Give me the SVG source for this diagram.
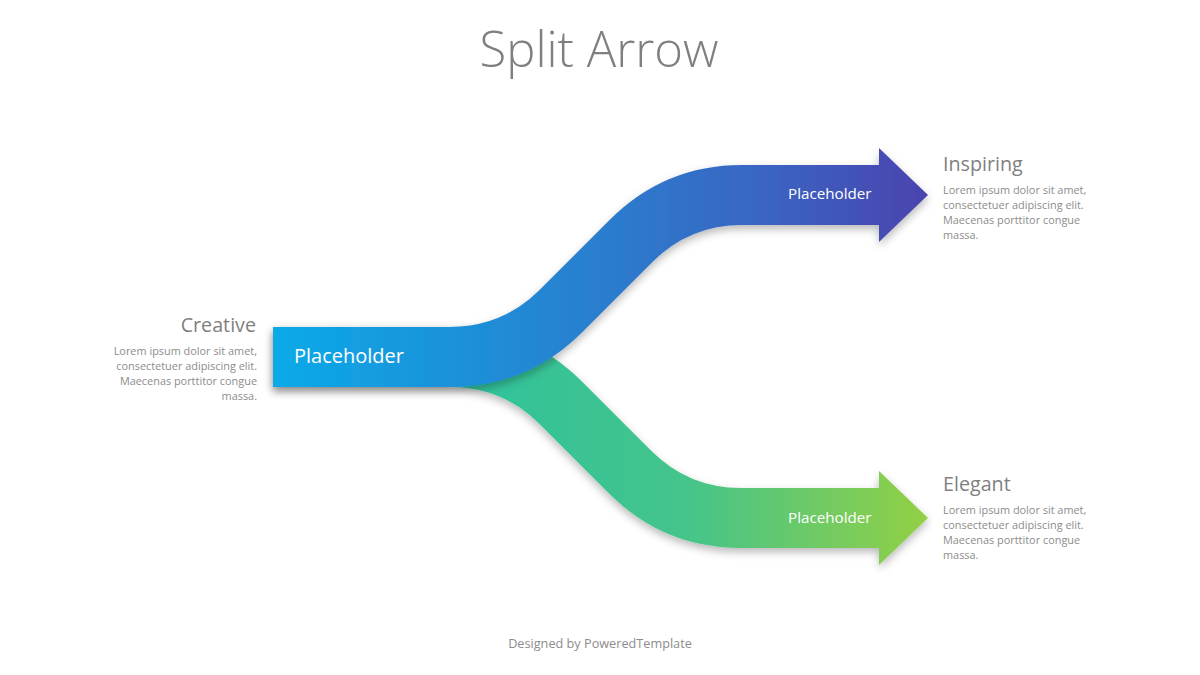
<svg xmlns="http://www.w3.org/2000/svg" width="1200" height="675" viewBox="0 0 1200 675">
  <style>
    .title { font-family: "Open Sans", "Liberation Sans", sans-serif; font-weight: 300; font-size: 49px; fill: #7f7f7f; }
    .head { font-family: "Open Sans", "Liberation Sans", sans-serif; font-size: 19.7px; fill: #7f7f7f; }
    .body { font-family: "Open Sans", "Liberation Sans", sans-serif; font-size: 10.9px; fill: #8c8c8c; }
    .ph { font-family: "Open Sans", "Liberation Sans", sans-serif; fill: #ffffff; }
    .foot { font-family: "Open Sans", "Liberation Sans", sans-serif; font-size: 12.7px; fill: #8c8c8c; }
    .band { fill: none; stroke-width: 60; stroke-linejoin: round; stroke-linecap: butt; }
  </style>
  <defs>
    <linearGradient id="gBlue" gradientUnits="userSpaceOnUse" x1="273" y1="0" x2="928" y2="0">
      <stop offset="0" stop-color="#0AAAE8"/>
      <stop offset="0.45" stop-color="#2782D1"/>
      <stop offset="0.75" stop-color="#3A65C2"/>
      <stop offset="1" stop-color="#4A43AE"/>
    </linearGradient>
    <linearGradient id="gGreen" gradientUnits="userSpaceOnUse" x1="450" y1="0" x2="928" y2="0">
      <stop offset="0" stop-color="#2EC29E"/>
      <stop offset="0.5" stop-color="#45C48A"/>
      <stop offset="1" stop-color="#93D044"/>
    </linearGradient>
    <filter id="shadow" x="-10%" y="-20%" width="120%" height="140%">
      <feDropShadow dx="0" dy="4" stdDeviation="4" flood-color="#000000" flood-opacity="0.28"/>
    </filter>
  </defs>

  <rect width="1200" height="675" fill="#ffffff"/>

  <text class="title" x="599" y="67" text-anchor="middle">Split Arrow</text>

  <g id="connectors">
    <g id="arrow-elegant" filter="url(#shadow)">
      <path class="band" stroke="url(#gGreen)" d="M273,357 H450 Q515,357 561,403 L630,472 Q676,518 741,518 H881"/>
      <polygon points="879,471 928,518 879,565" fill="url(#gGreen)"/>
    </g>
    <g id="arrow-inspiring" filter="url(#shadow)">
      <path class="band" stroke="url(#gBlue)" d="M273,357 H450 Q515,357 561,311 L631,241 Q677,195 742,195 H881"/>
      <polygon points="879,148 928,195 879,242" fill="url(#gBlue)"/>
    </g>
  </g>

  <g id="node-creative">
    <text class="ph" x="294" y="363" font-size="20">Placeholder</text>
    <text class="head" x="256" y="332" text-anchor="end">Creative</text>
    <g class="body" text-anchor="end">
      <text x="257" y="355">Lorem  ipsum dolor sit amet,</text>
      <text x="257" y="370">consectetuer  adipiscing elit.</text>
      <text x="257" y="385">Maecenas porttitor congue</text>
      <text x="257" y="400">massa.</text>
    </g>
  </g>

  <g id="node-inspiring">
    <text class="ph" x="788" y="199" font-size="15.2">Placeholder</text>
    <text class="head" x="943" y="171">Inspiring</text>
    <g class="body">
      <text x="943" y="194">Lorem  ipsum dolor sit amet,</text>
      <text x="943" y="209">consectetuer  adipiscing elit.</text>
      <text x="943" y="224">Maecenas porttitor congue</text>
      <text x="943" y="239">massa.</text>
    </g>
  </g>

  <g id="node-elegant">
    <text class="ph" x="788" y="523" font-size="15.2">Placeholder</text>
    <text class="head" x="943" y="491">Elegant</text>
    <g class="body">
      <text x="943" y="514">Lorem  ipsum dolor sit amet,</text>
      <text x="943" y="529">consectetuer  adipiscing elit.</text>
      <text x="943" y="544">Maecenas porttitor congue</text>
      <text x="943" y="559">massa.</text>
    </g>
  </g>

  <text class="foot" x="600" y="648" text-anchor="middle">Designed by PoweredTemplate</text>
</svg>
